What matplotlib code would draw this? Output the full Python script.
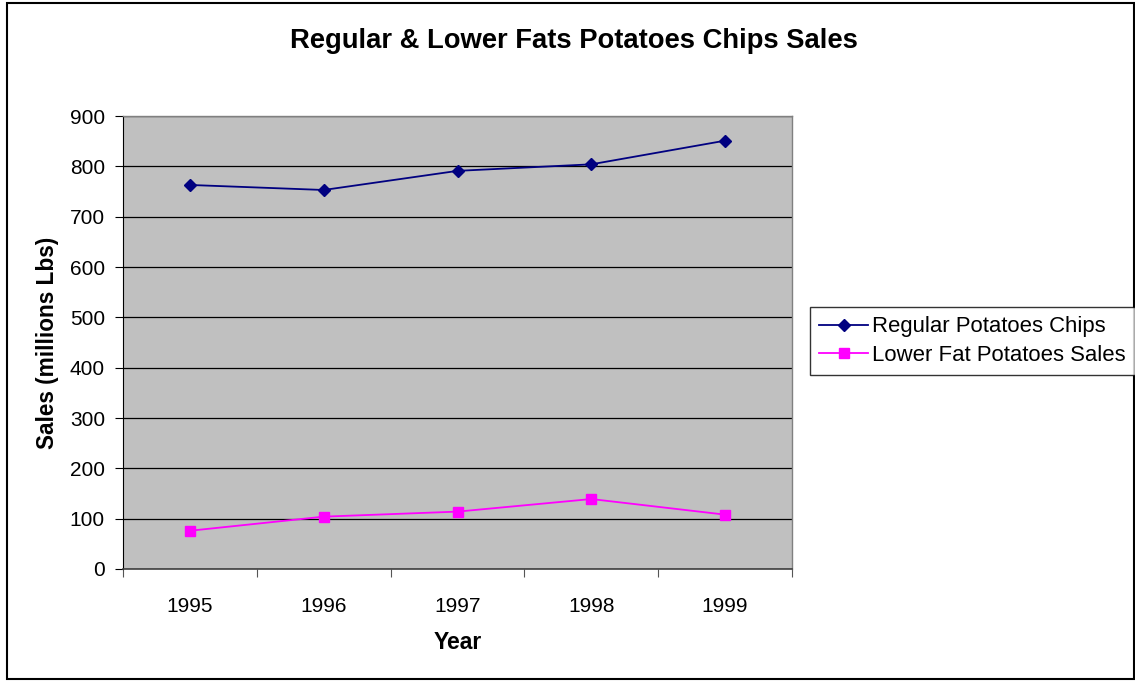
import matplotlib
matplotlib.use("Agg")
import matplotlib.pyplot as plt
from matplotlib.patches import Rectangle

# data
years = ["1995", "1996", "1997", "1998", "1999"]
regular_chips = [763, 753, 791, 804, 851]
lower_fat_chips = [76, 104, 114, 139, 108]

y_ticks = [0, 100, 200, 300, 400, 500, 600, 700, 800, 900]

plt.rcParams["font.family"] = ["Liberation Sans", "DejaVu Sans"]

W, H = 1135, 681
fig = plt.figure(figsize=(W / 100, H / 100), dpi=100)

# plot area in pixel coords of the reference
left, right, top, bottom = 123, 792, 116, 569
ax = fig.add_axes([left / W, 1 - bottom / H, (right - left) / W, (bottom - top) / H])
ax.set_facecolor("#C0C0C0")

xs = list(range(len(years)))
ax.plot(xs, regular_chips, color="#000080", marker="D", markersize=6.5,
        linewidth=1.3, label="Regular Potatoes Chips", zorder=3)
ax.plot(xs, lower_fat_chips, color="#FF00FF", marker="s", markersize=7,
        linewidth=1.3, label="Lower Fat Potatoes Sales", zorder=3)

ax.set_xlim(-0.5, len(years) - 0.5)
ax.set_ylim(0, 900)
ax.set_yticks(y_ticks)
ax.yaxis.grid(True, color="black", linewidth=0.9)
ax.set_axisbelow(True)

# category labels centred, tick marks on the boundaries (Excel style)
ax.set_xticks([i - 0.5 for i in range(len(years) + 1)])
ax.set_xticklabels([""] * (len(years) + 1))
ax.set_xticks(xs, minor=True)
ax.set_xticklabels(years, minor=True)
ax.tick_params(axis="x", which="minor", length=0, pad=20, labelsize=15)
ax.tick_params(axis="x", which="major", length=6, color="#555555")
ax.tick_params(axis="y", length=6, pad=7, labelsize=15)

for side in ["top", "right"]:
    ax.spines[side].set_color("#808080")
    ax.spines[side].set_linewidth(1.0)
ax.spines["left"].set_color("black")
ax.spines["bottom"].set_color("#404040")
ax.spines["bottom"].set_linewidth(1.2)

ax.set_xlabel("Year", fontsize=16.5, fontweight="bold", labelpad=11)
ax.set_ylabel("Sales (millions Lbs)", fontsize=16.3, fontweight="bold", labelpad=8)

fig.text(573.5 / W, 1 - 41 / H, "Regular & Lower Fats Potatoes Chips Sales",
         ha="center", va="center", fontsize=19.7, fontweight="bold")

leg = fig.legend(loc="upper left", bbox_to_anchor=(810 / W, 1 - 307 / H),
                 fontsize=15.9, frameon=True, fancybox=False, borderpad=0.42,
                 handlelength=2.2, handletextpad=0.2, labelspacing=0.35,
                 borderaxespad=0)
leg.get_frame().set_edgecolor("black")
leg.get_frame().set_linewidth(1.0)

# outer chart border
fig.patches.append(Rectangle((7 / W, 1 - 679 / H), (1134 - 7) / W, (679 - 3) / H,
                             transform=fig.transFigure, fill=False,
                             edgecolor="black", linewidth=1.5))

fig.savefig("out.png", dpi=100)
